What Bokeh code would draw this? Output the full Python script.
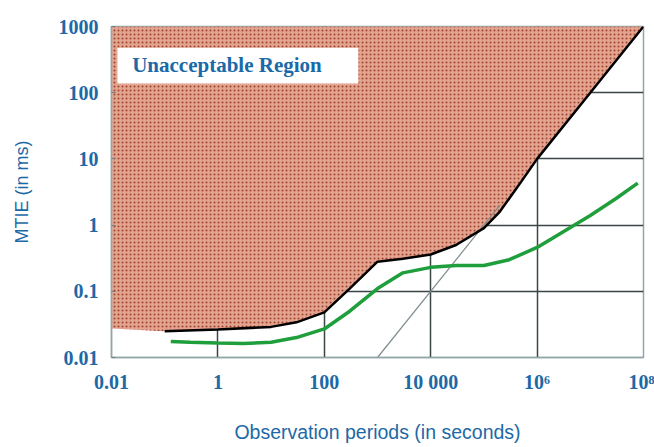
from bokeh.plotting import figure
from bokeh.models import Range1d, FixedTicker
from bokeh.embed import file_html
from bokeh.resources import INLINE
from bokeh.core.properties import value

# ---- data ----
x_ticks = [0.01, 1, 100, 10000, 1000000, 100000000]
x_tick_labels = ["0.01", "1", "100", "10 000", "10\u2076", "10\u2078"]
y_ticks = [0.01, 0.1, 1, 10, 100, 1000]
y_tick_labels = ["0.01", "0.1", "1", "10", "100", "1000"]

# limit (black) curve
limit_x = [0.1, 1, 10, 30, 100, 300, 1000, 3000, 10000, 30000, 100000, 200000, 500000, 1000000, 10000000, 100000000]
limit_y = [0.025, 0.0265, 0.029, 0.034, 0.048, 0.11, 0.28, 0.31, 0.36, 0.5, 0.9, 1.6, 4.5, 10, 100, 1000]

# measured (green) curve
meas_x = [0.13, 0.3, 1, 3, 10, 30, 100, 300, 1000, 3000, 10000, 30000, 100000, 300000, 1000000, 3000000, 10000000, 30000000, 78000000]
meas_y = [0.0175, 0.017, 0.0165, 0.0163, 0.017, 0.02, 0.027, 0.05, 0.11, 0.19, 0.23, 0.245, 0.245, 0.3, 0.46, 0.78, 1.4, 2.5, 4.3]

# thin grey reference slope
ref_x = [1000, 200000]
ref_y = [0.01, 2.0]

# unacceptable region boundary corners
region_left_y = 0.0275
x_min, x_max = 0.01, 100000000
y_min, y_max = 0.01, 1000

label_text = "Unacceptable Region"

BLUE = "#1d69a6"

p = figure(width=654, height=447, x_axis_type="log", y_axis_type="log",
           x_range=Range1d(x_min, x_max), y_range=Range1d(y_min, y_max),
           output_backend="svg", toolbar_location=None,
           min_border_left=111, min_border_right=11, min_border_top=26,
           min_border_bottom=90)

p.background_fill_color = "white"
p.border_fill_color = "white"
p.outline_line_color = "#93a6aa"
p.outline_line_width = 1.5

# grid
p.xgrid.ticker = FixedTicker(ticks=x_ticks[1:])
p.ygrid.ticker = FixedTicker(ticks=y_ticks[1:-1])
for g in (p.xgrid, p.ygrid):
    g.grid_line_color = "#3a4646"
    g.grid_line_width = 1.5
    g.minor_grid_line_color = None

# unacceptable region
reg_x = [x_min] + limit_x + [x_min]
reg_y = [region_left_y] + limit_y + [y_max]
p.patch(reg_x, reg_y, fill_color="#e2a490", line_color=None,
        hatch_pattern="dot", hatch_color="#a0412a", hatch_scale=4, hatch_weight=3)

# label box
p.quad(left=[0.0129], right=[437], top=[479], bottom=[138],
       fill_color="white", line_color=None)
p.text(x=[1.48], y=[262], text=[label_text], text_align="center", text_baseline="middle",
       text_font=value("Liberation Serif"), text_font_style="bold", text_font_size="21px",
       text_color="#1a69a8")

# reference slope
p.line(ref_x, ref_y, line_color="#7f8c90", line_width=1.2)
# measured
p.line(meas_x, meas_y, line_color="#1f9e3c", line_width=3.5)
# limit
p.line(limit_x, limit_y, line_color="black", line_width=2.5)

# axes
p.xaxis.ticker = FixedTicker(ticks=x_ticks)
p.xaxis.major_label_overrides = {t: l for t, l in zip(x_ticks, x_tick_labels)}
p.yaxis.ticker = FixedTicker(ticks=y_ticks)
p.yaxis.major_label_overrides = {t: l for t, l in zip(y_ticks, y_tick_labels)}

for ax in (p.xaxis, p.yaxis):
    ax.major_label_text_font = "Liberation Serif"
    ax.major_label_text_font_style = "bold"
    ax.major_label_text_font_size = "20px"
    ax.major_label_text_color = BLUE
    ax.axis_line_color = "#93a6aa"
    ax.axis_line_width = 1.5
    ax.major_tick_line_color = "#6f8080"
    ax.minor_tick_line_color = None
    ax.major_tick_out = 0
    ax.axis_label_text_font = "Liberation Sans"
    ax.axis_label_text_font_style = "normal"
    ax.axis_label_text_color = BLUE

p.xaxis.major_tick_in = 0
p.yaxis.major_tick_in = 4
p.xaxis.major_label_standoff = 13
p.yaxis.major_label_standoff = 13
p.xaxis.axis_label = "Observation periods (in seconds)"
p.yaxis.axis_label = "MTIE (in ms)"
p.xaxis.axis_label_text_font_size = "19.5px"
p.yaxis.axis_label_text_font_size = "18px"
p.xaxis.axis_label_standoff = 25
p.yaxis.axis_label_standoff = 24

open("out.html", "w").write(file_html(p, INLINE))
